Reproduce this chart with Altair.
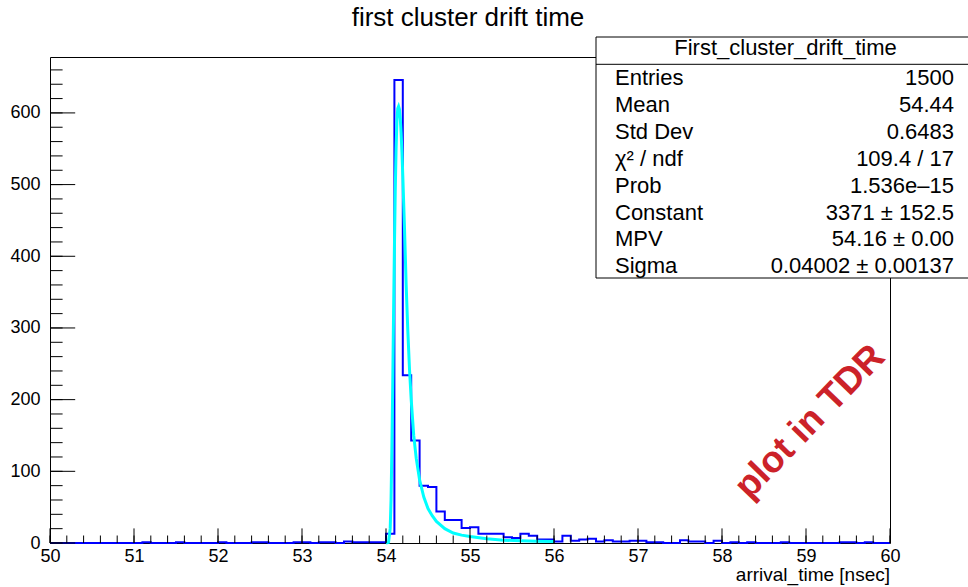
import altair as alt
import pandas as pd

# ---------------- data ----------------
bin_low = [round(50 + 0.1 * i, 1) for i in range(100)]
counts = (
    [0, 0, 0, 0, 0, 0, 0, 0, 0, 0] +            # 50.x
    [0, 1, 0, 0, 0, 1, 0, 0, 0, 0] +            # 51.x
    [1, 0, 0, 0, 1, 1, 0, 0, 0, 1] +            # 52.x
    [1, 0, 1, 1, 0, 2, 1, 1, 1, 1] +            # 53.x
    [13, 646, 234, 143, 80, 78, 44, 32, 32, 21] +  # 54.x
    [22, 13, 13, 13, 8, 7, 13, 10, 5, 5] +      # 55.x
    [2, 10, 3, 5, 6, 2, 4, 2, 2, 3] +           # 56.x
    [3, 1, 1, 0, 0, 4, 2, 2, 0, 3] +            # 57.x
    [0, 1, 0, 1, 0, 0, 0, 1, 0, 0] +            # 58.x
    [0, 0, 0, 0, 1, 1, 0, 1, 0, 0]              # 59.x
)
fit_x = [54.00, 54.03, 54.05, 54.06, 54.07, 54.08, 54.09, 54.10, 54.11, 54.12,
         54.13, 54.14, 54.15, 54.16, 54.17, 54.18, 54.19, 54.20, 54.22, 54.24,
         54.26, 54.28, 54.30, 54.33, 54.36, 54.40, 54.45, 54.50, 54.55, 54.60,
         54.70, 54.80, 54.90, 55.00, 55.20, 55.40, 55.60, 55.80, 56.00]
fit_y = [0, 1, 20, 60, 130, 220, 320, 410, 490, 550,
         590, 606, 609, 605, 592, 572, 545, 512, 440, 360,
         295, 242, 200, 150, 118, 88, 64, 48, 38, 30,
         20, 14, 11, 9, 6, 4, 3, 2.5, 2]

title_text = "first cluster drift time"
x_title = "arrival_time [nsec]"
stat_header = "First_cluster_drift_time"
stat_labels = ["Entries", "Mean", "Std Dev", "\u03c7\u00b2 / ndf", "Prob",
               "Constant", "MPV", "Sigma"]
stat_values = ["1500", "54.44", "0.6483", "109.4 / 17", "1.536e\u201315",
               "3371 \u00b1 152.5", "54.16 \u00b1 0.00", "0.04002 \u00b1 0.00137"]
watermark = "plot in TDR"

x_major = list(range(50, 61))
y_major = list(range(0, 601, 100))
x_minor = [round(50 + 0.2 * i, 1) for i in range(51)]
y_minor = list(range(0, 661, 20))

# ---------------- layout ----------------
W, H = 840, 486
FONT = "Liberation Sans"
xs = alt.Scale(domain=[50, 60], nice=False, zero=False)
ys = alt.Scale(domain=[0, 678], nice=False, zero=False)
ax_x = alt.Axis(values=x_major, title=None, ticks=False, domain=False, grid=False,
                labelFontSize=18, labelFont=FONT, labelColor="black", labelPadding=4,
                format="d", labelFlush=False, labelOverlap=False)
ax_y = alt.Axis(values=y_major, title=None, ticks=False, domain=False, grid=False,
                labelFontSize=18, labelFont=FONT, labelColor="black", labelPadding=10,
                format="d", labelOverlap=False)
X = lambda f: alt.X(f + ":Q", scale=xs, axis=ax_x)
Y = lambda f: alt.Y(f + ":Q", scale=ys, axis=ax_y)

hist_df = pd.DataFrame({"x": bin_low + [60.0], "y": counts + [counts[-1]]})
hist = alt.Chart(hist_df).mark_line(
    interpolate="step-after", color="#0000ff", strokeWidth=2
).encode(x=X("x"), y=Y("y"))

fit_df = pd.DataFrame({"x": fit_x, "y": fit_y})
fit = alt.Chart(fit_df).mark_line(color="#00ffff", strokeWidth=3).encode(x=X("x"), y=Y("y"))

xminor = alt.Chart(pd.DataFrame({"x": x_minor})).mark_rule(color="black", strokeWidth=1).encode(
    x=X("x"), y=alt.value(H), y2=alt.value(H - 7.5))
xmajor = alt.Chart(pd.DataFrame({"x": x_major})).mark_rule(color="black", strokeWidth=1).encode(
    x=X("x"), y=alt.value(H), y2=alt.value(H - 14.6))
yminor = alt.Chart(pd.DataFrame({"y": y_minor})).mark_rule(color="black", strokeWidth=1).encode(
    y=Y("y"), x=alt.value(0), x2=alt.value(12.6))
ymajor = alt.Chart(pd.DataFrame({"y": y_major})).mark_rule(color="black", strokeWidth=1).encode(
    y=Y("y"), x=alt.value(0), x2=alt.value(25.2))


def text_layer(s, x, y, **kw):
    return alt.Chart(pd.DataFrame({"t": [s]})).mark_text(font=FONT, color="black", **kw).encode(
        text="t:N", x=alt.value(x), y=alt.value(y))


layers = [hist, fit, xminor, xmajor, yminor, ymajor]

# stats box
box = alt.Chart(pd.DataFrame({"a": [0]})).mark_rect(
    fill="white", stroke="black", strokeWidth=1
).encode(x=alt.value(546), x2=alt.value(940), y=alt.value(-20), y2=alt.value(221))
sep = alt.Chart(pd.DataFrame({"a": [0]})).mark_rule(color="black", strokeWidth=1).encode(
    x=alt.value(546), x2=alt.value(940), y=alt.value(7.3))
layers += [box, sep, text_layer(stat_header, 735.5, -9, fontSize=22, align="center", baseline="middle")]
for i, (lab, val) in enumerate(zip(stat_labels, stat_values)):
    yy = 21 + 26.9 * i
    layers.append(text_layer(lab, 565, yy, fontSize=22, align="left", baseline="middle"))
    layers.append(text_layer(val, 904, yy, fontSize=22, align="right", baseline="middle"))

# titles
layers.append(text_layer(title_text, 418, -39, fontSize=26, align="center", baseline="middle"))
layers.append(text_layer(x_title, 840, 518, fontSize=19, align="right", baseline="middle"))

# watermark
layers.append(alt.Chart(pd.DataFrame({"t": [watermark]})).mark_text(
    font=FONT, fontSize=37, fontWeight="bold", color="#cc2229", angle=314,
    align="center", baseline="middle"
).encode(text="t:N", x=alt.value(760), y=alt.value(365)))

chart = alt.layer(*layers).properties(
    width=W, height=H,
    padding={"left": 50, "top": 57, "right": 78, "bottom": 44},
    autosize=alt.AutoSizeParams(type="none"),
).configure_view(stroke="black", strokeWidth=1)

chart.save("out.html", embed_options={"renderer": "svg", "actions": False})
